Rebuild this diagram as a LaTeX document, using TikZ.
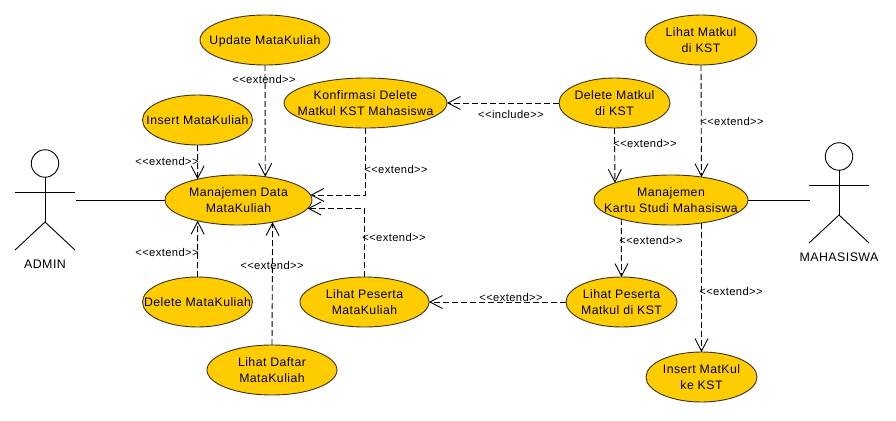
\documentclass[tikz,border=0pt]{standalone}
\usepackage{fontspec}
\setmainfont[LetterSpace=3.5]{Liberation Sans}
\usetikzlibrary{shapes.geometric,arrows.meta}
\definecolor{ucfill}{HTML}{FFCC00}
\definecolor{ucline}{HTML}{3A3320}
\newcommand{\uctext}[1]{\hbox to 0pt{\hss\raisebox{-4.7pt}[0pt][0pt]{\begin{tabular}{@{}c@{}}#1\end{tabular}}\hss}}
\tikzset{
  uc/.style={ellipse,draw=ucline,fill=ucfill,line width=0.9pt,inner sep=0pt,outer sep=0pt,minimum height=50pt,font=\fontsize{12.3}{16}\selectfont},
  dep/.style={line width=0.9pt,black,dash pattern=on 6pt off 3pt,-{Straight Barb[length=12.5pt,width=13pt,line width=0.9pt]}},
  assoc/.style={line width=0.9pt,black},
  steplabel/.style={font=\fontsize{11.2}{13}\selectfont,inner sep=0pt,outer sep=0pt,yshift=-0.7pt},
  actorlabel/.style={font=\fontsize{12.4}{14}\selectfont,inner sep=0pt,outer sep=0pt},
  head/.style={circle,draw=black,line width=0.9pt,minimum size=27.5pt,inner sep=0pt,outer sep=0pt},
  limb/.style={line width=0.9pt,black}
}
\begin{document}
\begin{tikzpicture}[x=1pt,y=-1pt]
\useasboundingbox[fill=white] (0,0) rectangle (896,420);
% use cases
\node[uc,minimum width=130pt] (upd) at (265,40) {\uctext{Update MataKuliah}};
\node[uc,minimum width=110pt] (ins) at (197.5,120) {\uctext{Insert MataKuliah}};
\node[uc,minimum width=147pt] (man) at (238.5,200) {\uctext{Manajemen Data\\MataKuliah}};
\node[uc,minimum width=163pt] (kon) at (365.5,103) {\uctext{Konfirmasi Delete\\Matkul KST Mahasiswa}};
\node[uc,minimum width=111pt] (delk) at (614.5,103) {\uctext{Delete Matkul\\di KST}};
\node[uc,minimum width=112pt] (lihk) at (701,40) {\uctext{Lihat Matkul\\di KST}};
\node[uc,minimum width=154pt] (kar) at (671,200) {\uctext{Manajemen\\Kartu Studi Mahasiswa}};
\node[uc,minimum width=110pt] (delm) at (197.5,302) {\uctext{Delete MataKuliah}};
\node[uc,minimum width=129pt] (pesm) at (364.5,302) {\uctext{Lihat Peserta\\MataKuliah}};
\node[uc,minimum width=130pt] (daf) at (272,370) {\uctext{Lihat Daftar\\MataKuliah}};
\node[uc,minimum width=111pt] (pesk) at (621.5,302) {\uctext{Lihat Peserta\\Matkul di KST}};
\node[uc,minimum width=111pt] (insk) at (701.5,377) {\uctext{Insert MatKul\\ke KST}};
% ADMIN actor
\node[head] (ah) at (45,163.5) {};
\coordinate (aneck) at (45,222);
\coordinate (aal) at (15,192);
\coordinate (aar) at (75,192);
\coordinate (all) at (15,250);
\coordinate (alr) at (75,250);
\coordinate (aport) at (76,200);
\draw[limb] (ah.south) -- (aneck);
\draw[limb] (aal) -- (aar);
\draw[limb] (all) -- (aneck) -- (alr);
\node[actorlabel] (al) at (45,264) {ADMIN};
% MAHASISWA actor
\node[head] (mh) at (839,156.5) {};
\coordinate (mneck) at (839,215);
\coordinate (mal) at (809,185);
\coordinate (mar) at (869,185);
\coordinate (mll) at (809,243);
\coordinate (mlr) at (869,243);
\coordinate (mport) at (810,200);
\draw[limb] (mh.south) -- (mneck);
\draw[limb] (mal) -- (mar);
\draw[limb] (mll) -- (mneck) -- (mlr);
\node[actorlabel] (ml) at (839,257) {MAHASISWA};
% associations
\draw[assoc] (aport) -- (man.west);
\draw[assoc] (kar.east) -- (mport);
% dependencies
\draw[dep] (upd.south) -- (man.41.4);
\draw[dep] (ins.south) -- (man.153.2);
\draw[dep] (kon.south) |- (man.4.8);
\draw[dep] (pesm.north) |- (man.-7.5);
\draw[dep] (delm.north) -- (man.-153.2);
\draw[dep] (daf.north) -- (man.-33.6);
\draw[dep] (delk.west) -- (kon.east);
\draw[dep] (delk.south) -- (kar.163.3);
\draw[dep] (lihk.south) -- (kar.37.5);
\draw[dep] (kar.201) -- (pesk.north);
\draw[dep] (kar.-37) -- (insk.north);
\draw[dep] (pesk.west) -- (pesm.east);
% labels
\node[steplabel] (l1) at (264,79) {<{}<extend>{}>};
\node[steplabel] (l2) at (167,160.5) {<{}<extend>{}>};
\node[steplabel] (l3) at (396,169) {<{}<extend>{}>};
\node[steplabel] (l4) at (394,237) {<{}<extend>{}>};
\node[steplabel] (l5) at (167,251.5) {<{}<extend>{}>};
\node[steplabel] (l6) at (272,264.5) {<{}<extend>{}>};
\node[steplabel] (l7) at (511,114) {<{}<include>{}>};
\node[steplabel] (l8) at (645,142.5) {<{}<extend>{}>};
\node[steplabel] (l9) at (732,120.5) {<{}<extend>{}>};
\node[steplabel] (l10) at (651,240) {<{}<extend>{}>};
\node[steplabel] (l11) at (731,291) {<{}<extend>{}>};
\node[steplabel] (l12) at (511,296.5) {<{}<extend>{}>};
\end{tikzpicture}
\end{document}
